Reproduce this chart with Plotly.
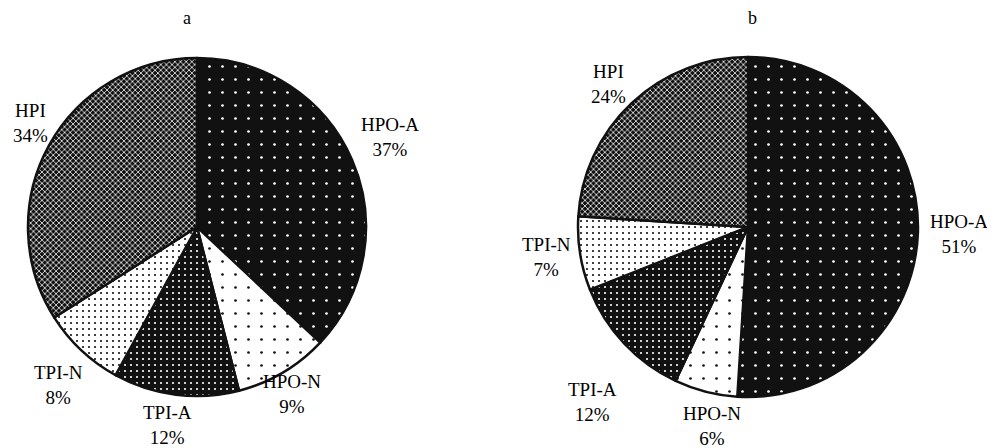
import math
import plotly.graph_objects as go

# ---- data ----
categories = ["HPO-A", "HPO-N", "TPI-A", "TPI-N", "HPI"]
values_a = [37, 9, 12, 8, 34]
values_b = [51, 6, 12, 7, 24]
panel_titles = ["a", "b"]

W, H = 995, 448
OFF = 8  # page body margin of the html page
FONT = "Liberation Serif, Times New Roman, serif"

# ---- styles (per category) ----
patterns = {
    "HPO-A": dict(shape=".", bgcolor="#111", fgcolor="#fff", size=13, solidity=0.035),
    "HPO-N": dict(shape=".", bgcolor="#fff", fgcolor="#111", size=13, solidity=0.035),
    "TPI-A": dict(shape=".", bgcolor="#111", fgcolor="#fff", size=6, solidity=0.1),
    "TPI-N": dict(shape=".", bgcolor="#fff", fgcolor="#111", size=6, solidity=0.1),
    "HPI":   dict(shape="x", bgcolor="#111", fgcolor="#fff", size=4, solidity=0.35),
}

# label fine-placement nudges (pixels) applied after radial placement
label_nudge = {
    ("a", "HPO-A"): (7, -9), ("a", "HPO-N"): (-8, -8), ("a", "TPI-A"): (-4, -3),
    ("a", "TPI-N"): (0, 10), ("a", "HPI"): (11, -6),
    ("b", "HPO-A"): (7, 1), ("b", "HPO-N"): (15, 1), ("b", "TPI-A"): (-7, 35),
    ("b", "TPI-N"): (0, -2), ("b", "HPI"): (0, 6),
}

# pie placement (pixel centre in window, radius)
panels = [
    dict(cx=197, cy=227, r=169, values=values_a, title=panel_titles[0], tx=187),
    dict(cx=748, cy=227, r=170, values=values_b, title=panel_titles[1], tx=752),
]


def px(x):
    return (x - OFF) / W


def py(y):
    return 1 - (y - OFF) / H


fig = go.Figure()
annotations = []
for p in panels:
    cx, cy, r = p["cx"], p["cy"], p["r"]
    fig.add_trace(go.Pie(
        labels=categories, values=p["values"], sort=False,
        direction="clockwise", rotation=0,
        textinfo="none", hoverinfo="label+percent",
        domain=dict(x=[px(cx - r), px(cx + r)], y=[py(cy + r), py(cy - r)]),
        marker=dict(
            colors=[patterns[c]["bgcolor"] for c in categories],
            line=dict(color="#111", width=2.5),
            pattern=dict(
                shape=[patterns[c]["shape"] for c in categories],
                bgcolor=[patterns[c]["bgcolor"] for c in categories],
                fgcolor=[patterns[c]["fgcolor"] for c in categories],
                size=[patterns[c]["size"] for c in categories],
                solidity=[patterns[c]["solidity"] for c in categories],
            ),
        ),
        showlegend=False,
    ))
    total = sum(p["values"])
    cum = 0
    for cat, v in zip(categories, p["values"]):
        mid = (cum + v / 2) / total * 2 * math.pi
        cum += v
        dx, dy = math.sin(mid), math.cos(mid)
        nx, ny = label_nudge.get((p["title"], cat), (0, 0))
        lx = cx + 1.2 * r * dx + nx
        ly = cy - 1.2 * r * dy + ny
        annotations.append(dict(
            x=px(lx), y=py(ly), xref="paper", yref="paper",
            text=f"{cat}<br>{round(v / total * 100)}%", showarrow=False,
            xanchor="center", yanchor="middle", align="center",
            font=dict(family=FONT, size=19, color="#000"),
        ))
    annotations.append(dict(
        x=px(p["tx"]), y=py(18), xref="paper", yref="paper",
        text=p["title"], showarrow=False, xanchor="center", yanchor="middle",
        font=dict(family=FONT, size=18, color="#000"),
    ))

fig.update_layout(
    width=W, height=H,
    margin=dict(l=0, r=0, t=0, b=0),
    paper_bgcolor="white", plot_bgcolor="white",
    annotations=annotations,
)
fig.write_html("out.html")
